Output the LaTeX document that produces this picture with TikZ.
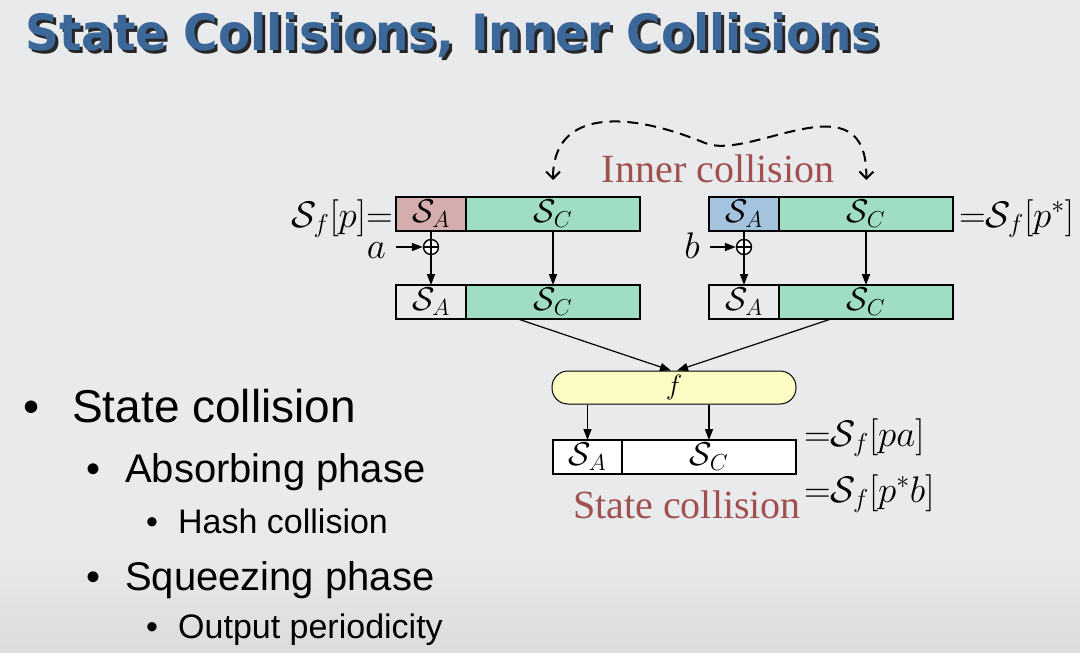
\RequirePackage{fix-cm}
\documentclass[tikz,border=0pt]{standalone}
\usepackage{fontspec}
\setmainfont{Liberation Serif}
\newfontfamily\slidefont{Liberation Sans}
\newfontfamily\titlefont{DejaVu Sans}[FakeStretch=0.94]
\usetikzlibrary{arrows.meta, positioning, calc}

\definecolor{bgray}{HTML}{E9EAEC}
\definecolor{titleblue}{HTML}{3B6799}
\definecolor{pinkA}{HTML}{D5ADAD}
\definecolor{blueA}{HTML}{A3C3DF}
\definecolor{greenC}{HTML}{A0DEC3}
\definecolor{fyellow}{HTML}{FDFCC4}
\definecolor{labelred}{HTML}{A0504E}

\newcommand{\regfont}{\fontsize{33}{38}\selectfont}
\newcommand{\eqfont}{\fontsize{37}{42}\selectfont}

\begin{document}
\begin{tikzpicture}[x=1pt, y=-1pt,
        reg/.style={rectangle, draw=black, line width=2pt, minimum height=34pt, inner sep=0pt, outer sep=0pt, font=\regfont},
        sabox/.style={reg, minimum width=70pt},
        scbox/.style={reg, minimum width=174pt, fill=greenC},
        flow/.style={-{Triangle[length=11pt,width=8pt]}, line width=1.6pt},
        collide/.style={{Straight Barb[length=7pt,width=14pt]}-{Straight Barb[length=7pt,width=14pt]}, dash pattern=on 11pt off 7pt, line width=2pt, shorten <=17pt, shorten >=17pt},
        xor/.style={circle, draw=black, line width=1.4pt, fill=white, minimum size=15pt, inner sep=0pt,
            path picture={
                \draw[line width=1.4pt] (path picture bounding box.north) -- (path picture bounding box.south)
                    (path picture bounding box.west) -- (path picture bounding box.east);
            }
        },
        mathlbl/.style={inner sep=0pt, font=\eqfont},
        redlbl/.style={inner sep=0pt, text=labelred, font=\fontsize{40}{44}\selectfont},
        bullet1/.style={inner sep=0pt, anchor=base west, font=\slidefont\fontsize{46}{50}\selectfont},
        bullet2/.style={bullet1, font=\slidefont\fontsize{40}{44}\selectfont},
        bullet3/.style={bullet1, font=\slidefont\fontsize{34}{38}\selectfont}
    ]
        % Slide background
        \useasboundingbox (0,0) rectangle (1080,653);
        \fill[bgray] (0,0) rectangle (1080,653);
        \shade[top color=bgray, bottom color=black!14] (0,550) rectangle (1080,653);

        % Title with shadow
        \node[anchor=base west, inner sep=0pt, text=black!85, font=\titlefont\bfseries\fontsize{50}{54}\selectfont] (titleshadow) at (28,53) {State Collisions, Inner Collisions};
        \node[anchor=base west, inner sep=0pt, text=titleblue, font=\titlefont\bfseries\fontsize{50}{54}\selectfont] (title) at (25,50) {State Collisions, Inner Collisions};

        % Bullet list
        \node[bullet1] (dot1) at (23,422) {\textbullet};
        \node[bullet1] (item1) at (72,422) {State collision};
        \node[bullet2] (dot2) at (86,482) {\textbullet};
        \node[bullet2] (item2) at (125,482) {Absorbing phase};
        \node[bullet3] (dot3) at (146,533) {\textbullet};
        \node[bullet3] (item3) at (178,533) {Hash collision};
        \node[bullet2] (dot4) at (86,590) {\textbullet};
        \node[bullet2] (item4) at (125,590) {Squeezing phase};
        \node[bullet3] (dot5) at (146,638) {\textbullet};
        \node[bullet3] (item5) at (178,638) {Output periodicity};

        % Left state S_f[p]
        \node[sabox, fill=pinkA] (saL) at (431,214) {$\mathcal{S}_A$};
        \node[scbox, anchor=west] (scL) at (saL.east) {$\mathcal{S}_C$};
        \node[sabox, fill=bgray] (saL2) at (431,302) {$\mathcal{S}_A$};
        \node[scbox, anchor=west] (scL2) at (saL2.east) {$\mathcal{S}_C$};
        \node[xor] (xorL) at (431,247) {};
        \node[mathlbl, anchor=base east] (aL) at (386,258) {$a$};
        \node[mathlbl, anchor=base east] (pL) at (393,227) {$\mathcal{S}_f[p]{=}$};

        % Right state S_f[p*]
        \node[sabox, fill=blueA] (saR) at (744,214) {$\mathcal{S}_A$};
        \node[scbox, anchor=west] (scR) at (saR.east) {$\mathcal{S}_C$};
        \node[sabox, fill=bgray] (saR2) at (744,302) {$\mathcal{S}_A$};
        \node[scbox, anchor=west] (scR2) at (saR2.east) {$\mathcal{S}_C$};
        \node[xor] (xorR) at (744,247) {};
        \node[mathlbl, anchor=base east] (bR) at (700,258) {$b$};
        \node[mathlbl, anchor=base west] (pR) at (959,227) {${=}\mathcal{S}_f[p^*]$};

        % Permutation and output state
        \node[draw=black, line width=1pt, fill=fyellow, rounded corners=16pt, minimum width=244pt, minimum height=33pt, inner sep=0pt, font=\fontsize{28}{32}\selectfont] (fbox) at (674,387.5) {$f$};
        \node[reg, fill=white, minimum width=69pt] (saO) at (587.5,457) {$\mathcal{S}_A$};
        \node[reg, fill=white, minimum width=174pt, anchor=west] (scO) at (saO.east) {$\mathcal{S}_C$};
        \node[mathlbl, anchor=base west] (outA) at (804,446) {${=}\mathcal{S}_f[pa]$};
        \node[mathlbl, anchor=base west] (outB) at (804,502) {${=}\mathcal{S}_f[p^*b]$};

        % Labels
        \node[redlbl, anchor=base] (innerlbl) at (718,182) {Inner collision};
        \node[redlbl, anchor=base] (statelbl) at (687,518) {State collision};

        % Absorbing a and b
        \draw[line width=1.6pt] (saL) -- (xorL);
        \draw[flow] (xorL) -- (saL2);
        \draw[flow] ([xshift=10pt]aL.east |- xorL) -- (xorL.west);
        \draw[flow] (scL) -- (scL2);
        \draw[line width=1.6pt] (saR) -- (xorR);
        \draw[flow] (xorR) -- (saR2);
        \draw[flow] ([xshift=10pt]bR.east |- xorR) -- (xorR.west);
        \draw[flow] (scR) -- (scR2);

        % Into f and out of f
        \draw[flow, line width=1.2pt] ($(saL2.south west)!0.5!(scL2.south east)$) -- ([xshift=-3pt]fbox.north);
        \draw[flow, line width=1.2pt] ($(saR2.south west)!0.5!(scR2.south east)$) -- ([xshift=3pt]fbox.north);
        \draw[flow] (fbox.south -| saO) -- (saO.north);
        \draw[flow] (fbox.south -| scO) -- (scO.north);

        % Inner collision
        \draw[collide] (scL.north) .. controls (553,110) and (625,110) .. (705,143)
            .. controls (750,162) and (868,75) .. (scR.north);
    \end{tikzpicture}
\end{document}
